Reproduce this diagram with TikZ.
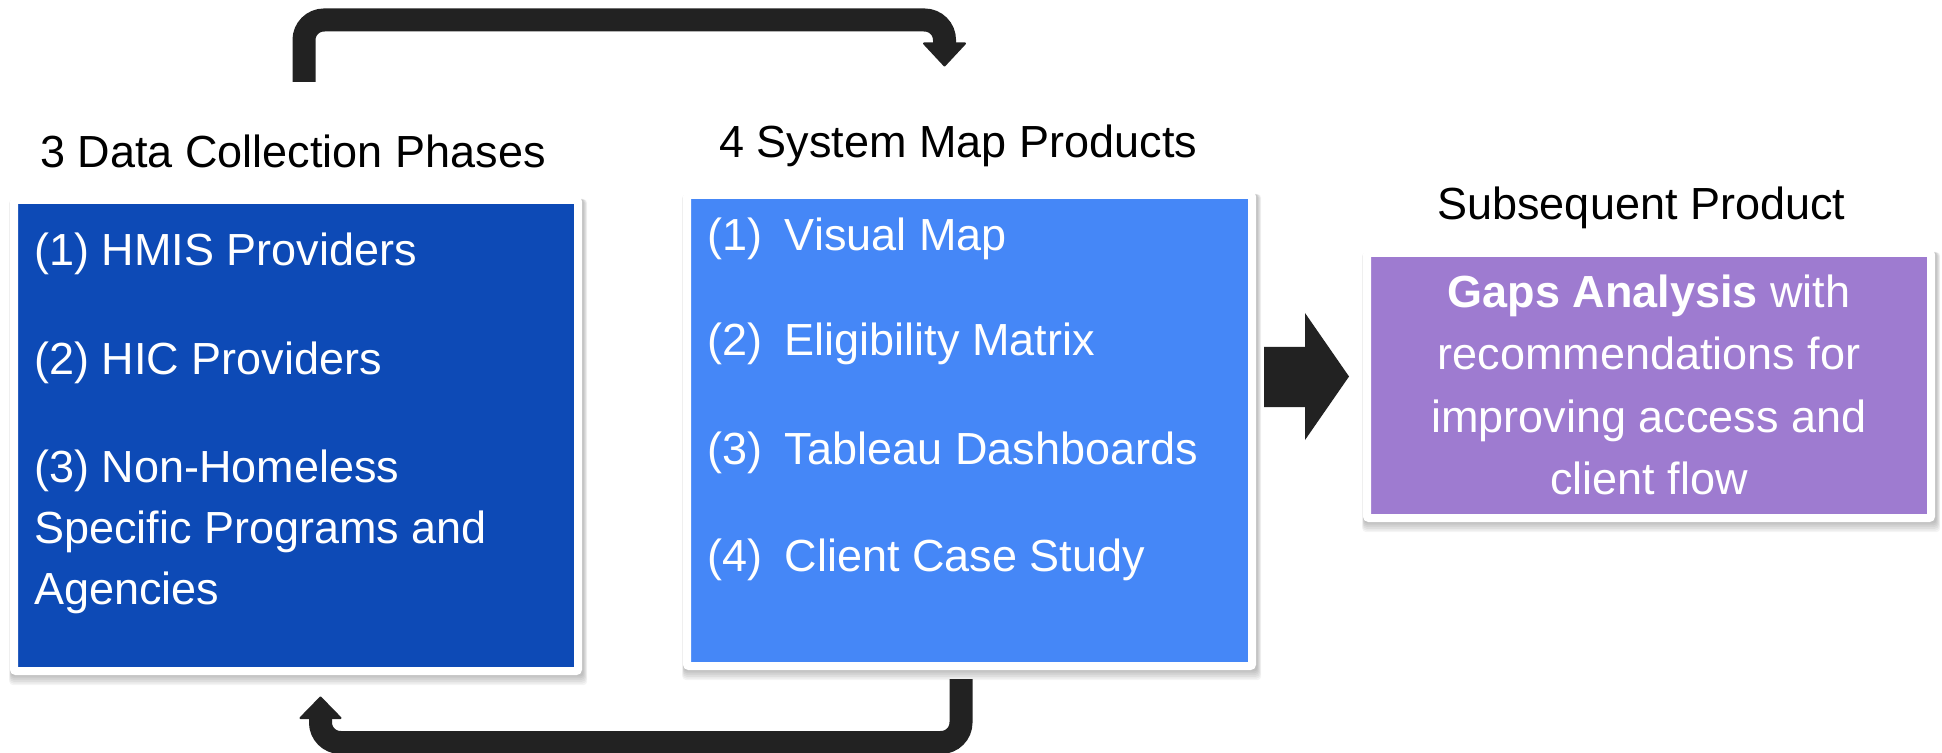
\documentclass[tikz,border=0pt]{standalone}
\usepackage{fontspec}
\setmainfont{Liberation Sans}
\usetikzlibrary{backgrounds,calc}

\definecolor{phaseblue}{HTML}{0D4AB6}
\definecolor{productblue}{HTML}{4587F7}
\definecolor{gapspurple}{HTML}{9E7BD0}
\definecolor{arrowgray}{HTML}{222222}

\begin{document}
\begin{tikzpicture}[x=0.5pt,y=-0.5pt,
  panel/.style={draw=white, line width=4pt, rounded corners=1pt, inner sep=0pt},
  heading/.style={anchor=base west, inner sep=0pt, font=\fontsize{22.5}{27}\selectfont, text=black},
  item/.style={anchor=base west, inner sep=0pt, font=\fontsize{22.5}{27}\selectfont, text=white},
  uturn/.style={draw=arrowgray, line width=11.5pt, rounded corners=10pt},
  tiphead/.style={fill=arrowgray, draw=arrowgray, line width=1pt, line join=round}
]
\useasboundingbox (0,0) rectangle (1942,753);

% ---- panels (white frame around a coloured face) ----
\node[panel, fill=phaseblue,   minimum width=282pt,   minimum height=235.5pt] (phases)   at (296,435.5)  {};
\node[panel, fill=productblue, minimum width=282.5pt, minimum height=235.5pt] (products) at (969.5,430.5) {};
\node[panel, fill=gapspurple,  minimum width=282pt,   minimum height=132.5pt] (gaps)     at (1649,385.5) {};

% ---- soft shadows under the panels ----
\begin{scope}[on background layer]
  \fill[white] (0,0) rectangle (1942,753);
  \foreach \p in {phases,products,gaps}{
    \foreach \i in {1,...,6}{
      \fill[black, opacity=0.045, rounded corners=2pt]
        ($(\p.north west)+(-0.3*\i+1,3)$) rectangle ($(\p.south east)+(0.7*\i+1,1.7*\i)$);
    }
  }
\end{scope}

% ---- headings ----
\node[heading] (phasehead)   at (40,168)   {3 Data Collection Phases};
\node[heading] (producthead) at (719,158)  {4 System Map Products};
\node[heading] (gapshead)    at (1437,220) {Subsequent Product};

% ---- data collection phases ----
\node[item] (ph1)  at (34,266) {(1) HMIS Providers};
\node[item] (ph2)  at (34,375) {(2) HIC Providers};
\node[item] (ph3a) at (34,482) {(3) Non-Homeless};
\node[item] (ph3b) at (34,543) {Specific Programs and};
\node[item] (ph3c) at (34,604) {Agencies};

% ---- system map products ----
\node[item] (pr1) at (707,251) {\makebox[38.75pt][l]{(1)}Visual Map};
\node[item] (pr2) at (707,356) {\makebox[38.75pt][l]{(2)}Eligibility Matrix};
\node[item] (pr3) at (707,464) {\makebox[38.75pt][l]{(3)}Tableau Dashboards};
\node[item] (pr4) at (707,571) {\makebox[38.75pt][l]{(4)}Client Case Study};

% ---- subsequent product ----
\node[item, anchor=base] (g1) at (1649,308) {\textbf{Gaps Analysis} with};
\node[item, anchor=base] (g2) at (1649,370) {recommendations for};
\node[item, anchor=base] (g3) at (1649,432) {improving access and};
\node[item, anchor=base] (g4) at (1649,494) {client flow};

% ---- cycle arrows between phases and products ----
\coordinate (topstart) at (304,82);
\coordinate (topleft)  at (304,20);
\coordinate (topright) at (944.5,20);
\coordinate (topend)   at (944.5,44);
\coordinate (toptip)   at (944.5,65.5);
\draw[uturn] (topstart) -- (topleft) -- (topright) -- (topend);
\filldraw[tiphead] ($(topend)+(-20.5,-0.5)$) -- ($(topend)+(20.5,-0.5)$) -- (toptip) -- cycle;

\coordinate (botstart) at (961,679);
\coordinate (botright) at (961,742.5);
\coordinate (botleft)  at (320.5,742.5);
\coordinate (botend)   at (320.5,717);
\coordinate (bottip)   at (320.5,697.5);
\draw[uturn] (botstart) -- (botright) -- (botleft) -- (botend);
\filldraw[tiphead] ($(botend)+(-20,1)$) -- ($(botend)+(20,1)$) -- (bottip) -- cycle;

% ---- block arrow from products to the gaps analysis ----
\fill[arrowgray] (1264,347) -- (1305,347) -- (1305,313) -- (1349,376.5)
  -- (1305,440) -- (1305,407) -- (1264,407) -- cycle;
\end{tikzpicture}
\end{document}
